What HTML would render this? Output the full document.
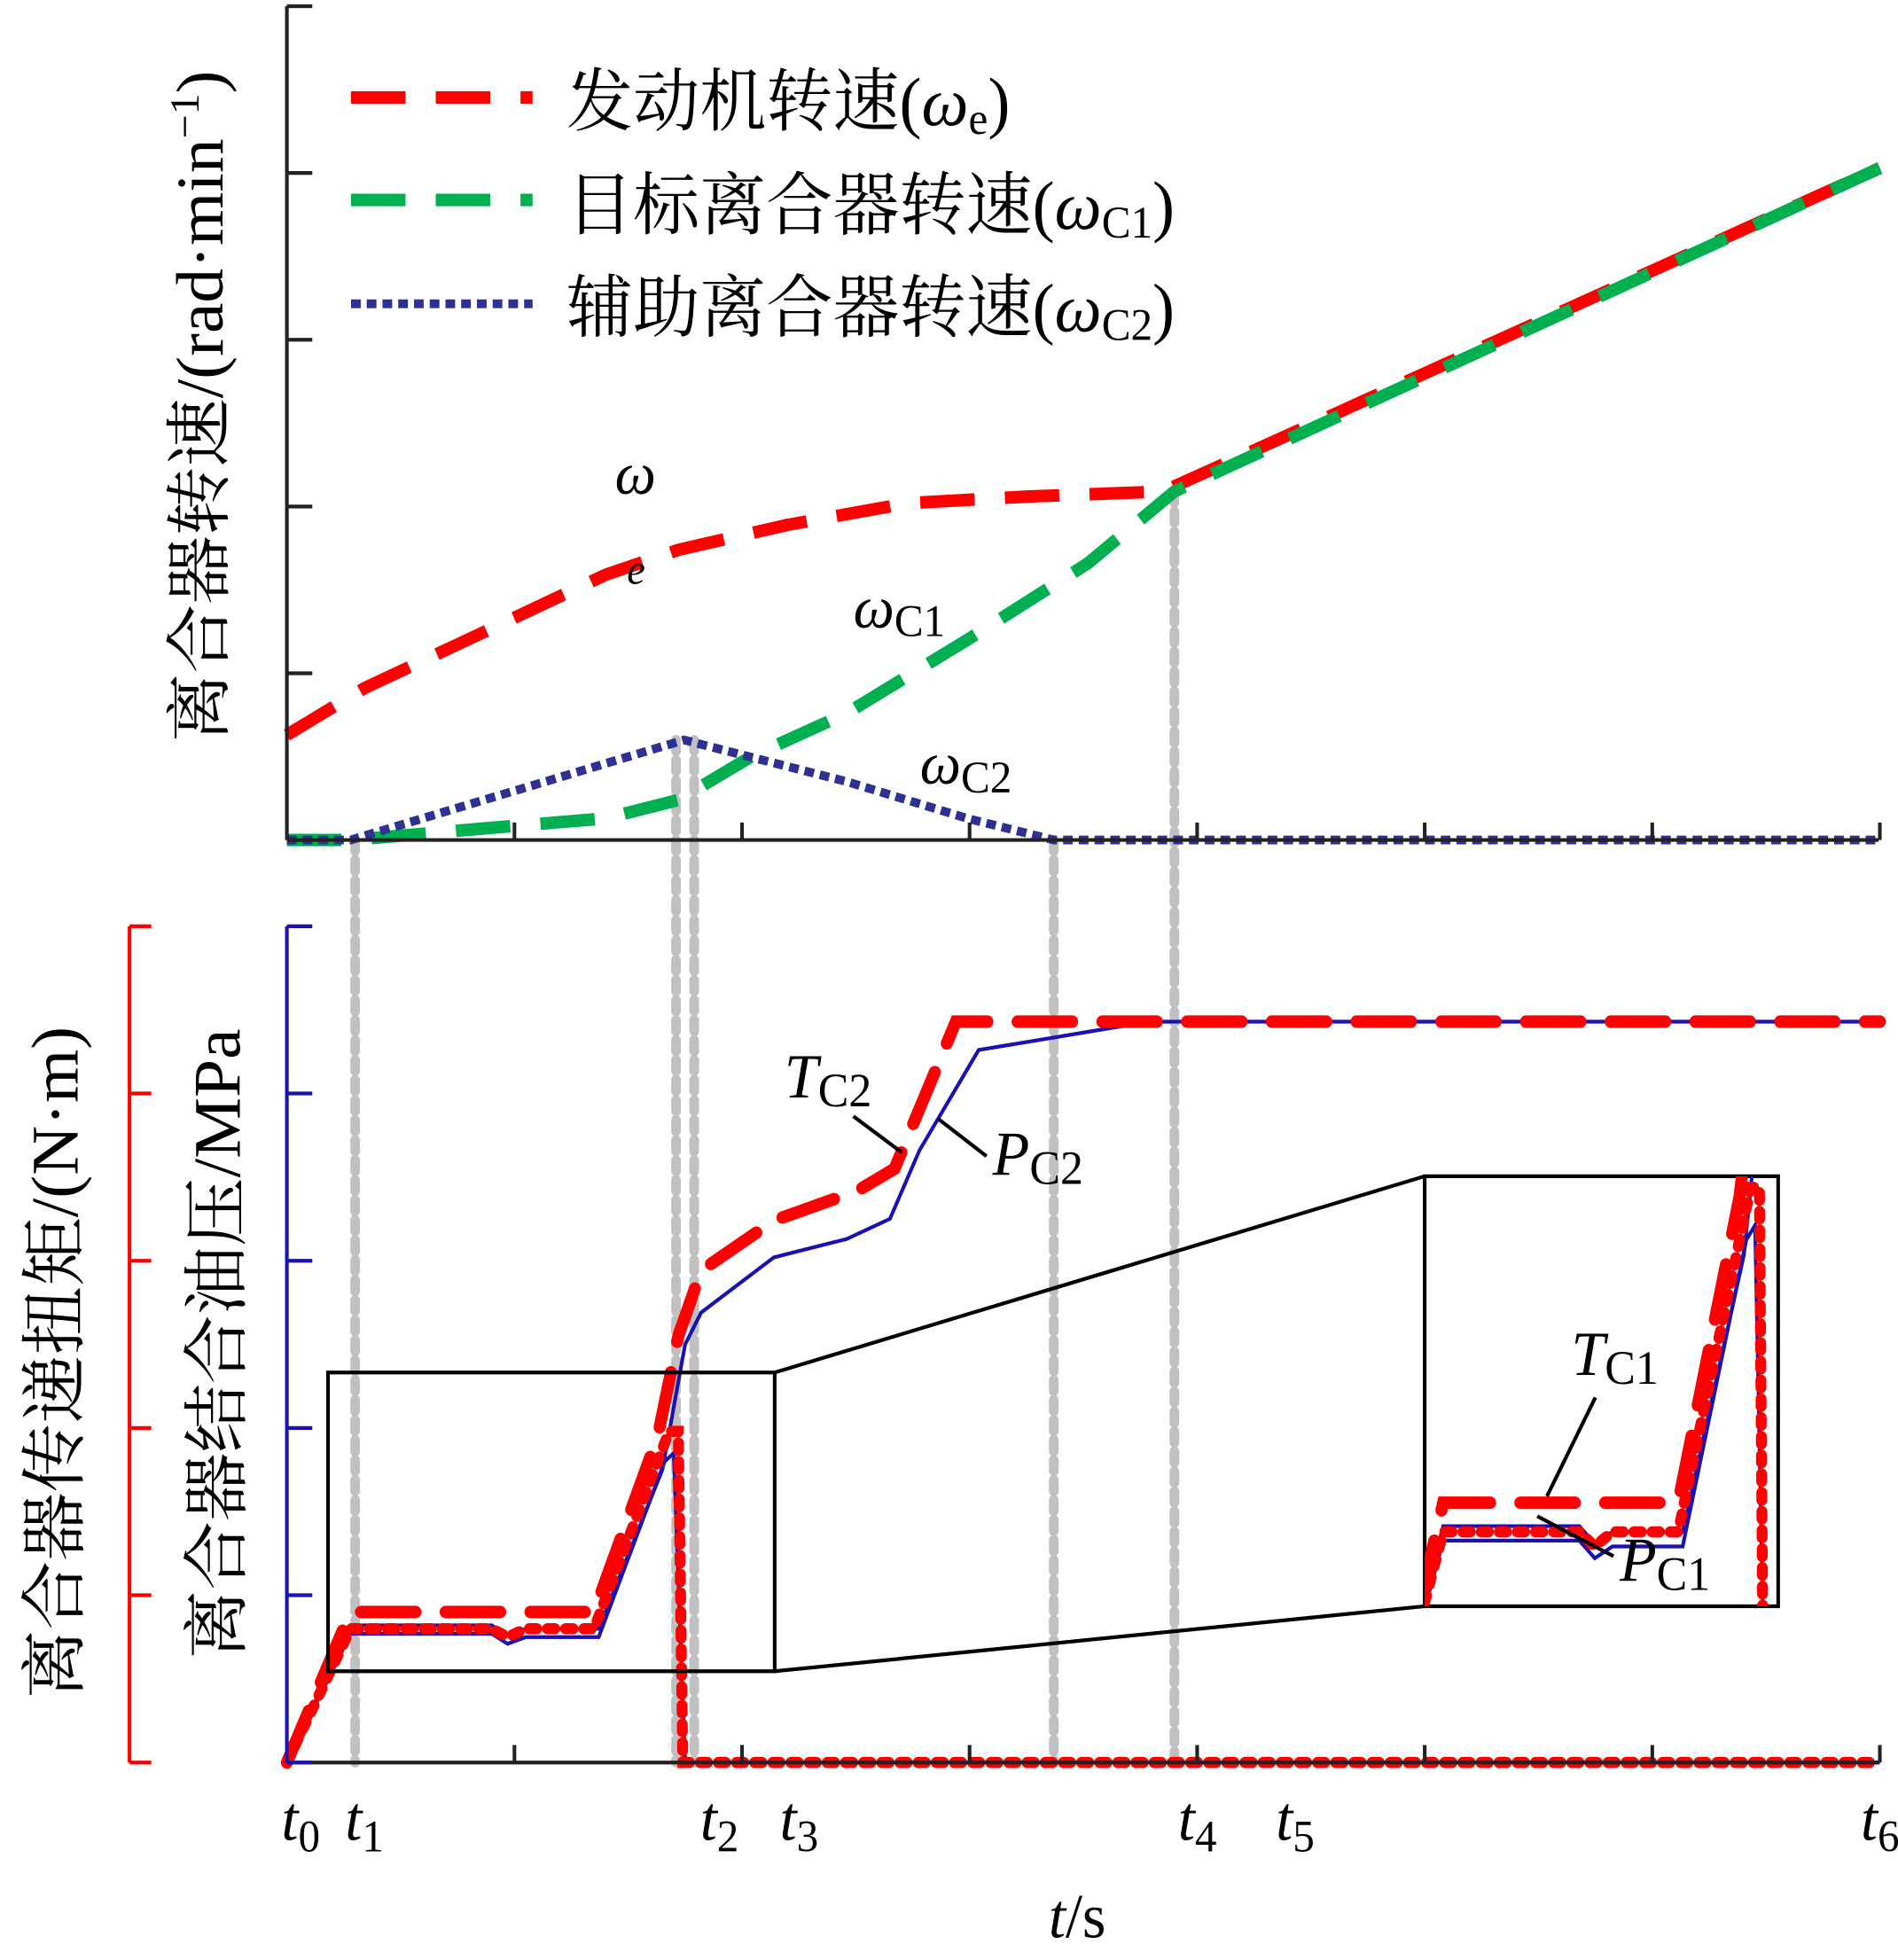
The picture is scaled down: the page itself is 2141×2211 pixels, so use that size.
<!DOCTYPE html>
<html><head><meta charset="utf-8"><style>
html,body{margin:0;padding:0;background:#fff}
svg{display:block}
text{font-family:"Liberation Serif","Noto Serif CJK SC","Noto Sans CJK SC",serif;fill:#000}
</style></head><body>
<svg id="chart" width="2141" height="2211" viewBox="0 0 1568 1568" preserveAspectRatio="none" xmlns="http://www.w3.org/2000/svg">
<defs>
<clipPath id="zoomClip"><rect x="1177" y="941" width="292" height="344"/></clipPath>
</defs>
<g id="grid-lines"></g>
<g id="topPlot"></g>
<g id="bottomPlot"></g>
<g id="zoomInset"></g>
<g id="axesGroup"></g>

<!-- legend -->
<g>
<line x1="290" y1="78" x2="440" y2="78" stroke="#f00" stroke-width="10" stroke-dasharray="45 25"/>
<text x="468" y="100" font-size="55">发动机转速(<tspan font-style="italic">ω</tspan><tspan font-size="36" dy="7">e</tspan><tspan dy="-7">)</tspan></text>
<line x1="290" y1="160" x2="440" y2="160" stroke="#00b050" stroke-width="10" stroke-dasharray="45 25"/>
<text x="468" y="183" font-size="55">目标离合器转速(<tspan font-style="italic">ω</tspan><tspan font-size="36" dy="7">C1</tspan><tspan dy="-7">)</tspan></text>
<line x1="290" y1="243" x2="440" y2="243" stroke="#2e3192" stroke-width="7" stroke-dasharray="8 5"/>
<text x="468" y="265" font-size="55">辅助离合器转速(<tspan font-style="italic">ω</tspan><tspan font-size="36" dy="7">C2</tspan><tspan dy="-7">)</tspan></text>
</g>

<!-- annotations -->
<text x="508" y="395" font-size="48" font-style="italic">ω</text>
<text x="518" y="467" font-size="34" font-style="italic">e</text>
<text x="705" y="502" font-size="48" font-style="italic">ω<tspan font-size="36" font-style="normal" dy="7">C1</tspan></text>
<text x="760" y="627" font-size="48" font-style="italic">ω<tspan font-size="36" font-style="normal" dy="7">C2</tspan></text>
<text x="648" y="878" font-size="50" font-style="italic">T<tspan font-size="38" font-style="normal" dy="7">C2</tspan></text>
<line x1="705" y1="893" x2="745" y2="922" stroke="#000" stroke-width="3"/>
<text x="820" y="940" font-size="50" font-style="italic">P<tspan font-size="38" font-style="normal" dy="7">C2</tspan></text>
<line x1="775" y1="895" x2="815" y2="925" stroke="#000" stroke-width="3"/>
<text x="1298" y="1100" font-size="50" font-style="italic">T<tspan font-size="38" font-style="normal" dy="7">C1</tspan></text>
<line x1="1318" y1="1118" x2="1278" y2="1197" stroke="#000" stroke-width="3"/>
<text x="1338" y="1265" font-size="50" font-style="italic">P<tspan font-size="38" font-style="normal" dy="7">C1</tspan></text>
<line x1="1270" y1="1213" x2="1333" y2="1245" stroke="#000" stroke-width="3"/>

<!-- axis titles -->
<text transform="translate(184,325) rotate(-90)" text-anchor="middle" font-size="55">离合器转速/(rad·min<tspan font-size="34" dy="-20">−1</tspan><tspan dy="20">)</tspan></text>
<text transform="translate(198,1075) rotate(-90)" text-anchor="middle" font-size="55">离合器结合油压/MPa</text>
<text transform="translate(64,1090) rotate(-90)" text-anchor="middle" font-size="55">离合器传递扭矩/(N·m)</text>
<text x="890" y="1550" text-anchor="middle" font-size="50"><tspan font-style="italic">t</tspan>/s</text>
<g id="xlabels"></g>
</svg>
<script>
// ---- data (x in tick units 0..7, y in tick units 0..5) ----
const engineX = [0, 0.34, 0.87, 1.40, 1.72, 2.2, 2.73, 3.26, 3.85, 7];
const engineY = [0.63, 0.91, 1.25, 1.59, 1.74, 1.89, 2.02, 2.06, 2.09, 4.03];
const c1X = [0, 0.28, 0.87, 1.40, 1.72, 2.04, 2.46, 2.99, 3.52, 3.90, 7];
const c1Y = [0, 0, 0.07, 0.13, 0.24, 0.5, 0.76, 1.2, 1.66, 2.09, 4.03];
const c2X = [0, 0.28, 1.745, 2.46, 2.99, 3.37, 7];
const c2Y = [0, 0, 0.6, 0.35, 0.13, 0, 0];
const tc2X = [0, 0.28, 0.35, 1.35, 1.63, 1.72, 1.82, 2.14, 2.51, 2.67, 2.94, 7];
const tc2Y = [0, 0.9, 0.9, 0.9, 1.95, 2.55, 2.94, 3.24, 3.42, 3.55, 4.43, 4.43];
const pc2X = [0, 0.28, 0.35, 0.9, 0.97, 1.05, 1.37, 1.65, 1.75, 1.82, 2.14, 2.46, 2.65, 2.78, 3.04, 3.79, 7];
const pc2Y = [0, 0.82, 0.82, 0.82, 0.76, 0.8, 0.8, 1.75, 2.5, 2.69, 3.02, 3.13, 3.25, 3.66, 4.26, 4.43, 4.43];
const tc1X = [0, 0.28, 0.9, 0.97, 1.05, 1.35, 1.68, 1.72, 1.74, 7];
const tc1Y = [0, 0.8, 0.8, 0.75, 0.8, 0.8, 1.98, 1.98, 0, 0];
const pc1X = [0, 0.28, 0.9, 0.97, 1.05, 1.37, 1.66, 1.70, 1.75, 7];
const pc1Y = [0, 0.77, 0.77, 0.71, 0.75, 0.75, 1.8, 1.85, 0, 0];
const markerX = [0.3, 1.71, 1.79, 3.37, 3.90];
const markerTop = [0, 0.6, 0.6, 0, 2.09];
const tickLabels = ["0","1","2","3","4","5","6"];
const tickLabelX = [0.04, 0.32, 1.88, 2.23, 3.98, 4.41, 6.98];

// ---- axes ----
const X0 = 237, XS = 188;
const sx = v => X0 + XS * v;
const syTop = v => 672 - 133.4 * v;
const syBot = v => 1410 - 133.8 * v;
const NS = "http://www.w3.org/2000/svg";
function mk(tag, attrs, parent) {
  const e = document.createElementNS(NS, tag);
  for (const k in attrs) e.setAttribute(k, attrs[k]);
  parent.appendChild(e); return e;
}
function pathD(xs, ys, fx, fy) {
  return xs.map((x, i) => (i ? "L" : "M") + fx(x).toFixed(1) + " " + fy(ys[i]).toFixed(1)).join(" ");
}
const gridG = document.getElementById("grid-lines");
const topG = document.getElementById("topPlot");
const botG = document.getElementById("bottomPlot");
const zoomG = document.getElementById("zoomInset");
const axesG = document.getElementById("axesGroup");

// gray time markers
markerX.forEach((m, i) => {
  const l = mk("line", {x1: sx(m), x2: sx(m), y1: syTop(markerTop[i]), y2: 1410, stroke: "#c0c0c0", "stroke-width": 8, "stroke-dasharray": "9 7", "stroke-linecap": "round"}, gridG);
  
  
});

// top series
let p = mk("path", {d: pathD(engineX, engineY, sx, syTop), fill: "none", stroke: "#f00", "stroke-width": 10, "stroke-dasharray": "45 25"}, topG);


p = mk("path", {d: pathD(c1X, c1Y, sx, syTop), fill: "none", stroke: "#00b050", "stroke-width": 10, "stroke-dasharray": "45 25"}, topG);


p = mk("path", {d: pathD(c2X, c2Y, sx, syTop), fill: "none", stroke: "#2e3192", "stroke-width": 7, "stroke-dasharray": "8 5"}, topG);



// bottom series
function drawBottom(parent, fx, fy, suffix) {
  let q = mk("path", {d: pathD(pc1X, pc1Y, fx, fy), fill: "none", stroke: "#1a12b0", "stroke-width": 3}, parent);
  
  
  q = mk("path", {d: pathD(pc2X, pc2Y, fx, fy), fill: "none", stroke: "#1a12b0", "stroke-width": 3}, parent);
  
  
  q = mk("path", {d: pathD(tc1X, tc1Y, fx, fy), fill: "none", stroke: "#f00", "stroke-width": 9, "stroke-dasharray": "6 9", "stroke-linecap": "round"}, parent);
  
  
  q = mk("path", {d: pathD(tc2X, tc2Y, fx, fy), fill: "none", stroke: "#f00", "stroke-width": 10, "stroke-dasharray": "45 25", "stroke-linecap": "round"}, parent);
  
  
}
drawBottom(botG, sx, syBot, "");

// zoom inset
let r = mk("rect", {x: 271, y: 1098, width: 369, height: 239, fill: "none", stroke: "#000", "stroke-width": 3}, zoomG);


r = mk("line", {x1: 640, y1: 1098, x2: 1177, y2: 941, stroke: "#000", "stroke-width": 3}, zoomG);


r = mk("line", {x1: 640, y1: 1337, x2: 1177, y2: 1285, stroke: "#000", "stroke-width": 3}, zoomG);


r = mk("rect", {x: 1177, y: 941, width: 292, height: 344, fill: "#fff", stroke: "#000", "stroke-width": 3}, zoomG);


const zg = mk("g", {"clip-path": "url(#zoomClip)"}, zoomG);


const zx = v => 1183 + (sx(v) - 280) * 0.965;
const zy = v => 941 + (syBot(v) - 1140) * 1.746;
drawBottom(zg, zx, zy, "-zoomed");

// axes
function ln(a, name, parent) { const l = mk("line", a, parent);   return l; }
ln({x1: 237, y1: 5, x2: 237, y2: 672, stroke: "#222", "stroke-width": 3}, 'top-y-axis', axesG);
ln({x1: 237, y1: 672, x2: 1552, y2: 672, stroke: "#222", "stroke-width": 3}, 'top-x-axis', axesG);
ln({x1: 237, y1: 741, x2: 237, y2: 1410, stroke: "#1a12b0", "stroke-width": 3}, 'pressure-y-axis', axesG);
ln({x1: 107, y1: 741, x2: 107, y2: 1410, stroke: "#f00", "stroke-width": 3}, 'torque-y-axis', axesG);
ln({x1: 237, y1: 1410, x2: 1552, y2: 1410, stroke: "#222", "stroke-width": 3}, 'bottom-x-axis', axesG);
for (let i = 0; i <= 5; i++) {
  ln({x1: 237, x2: 258, y1: syTop(i), y2: syTop(i), stroke: "#222", "stroke-width": 3}, 'top-y-tick', axesG);
  ln({x1: 237, x2: 258, y1: syBot(i), y2: syBot(i), stroke: "#1a12b0", "stroke-width": 3}, 'pressure-y-tick', axesG);
  ln({x1: 107, x2: 125, y1: syBot(i), y2: syBot(i), stroke: "#f00", "stroke-width": 3}, 'torque-y-tick', axesG);
}
for (let i = 1; i <= 7; i++) {
  ln({x1: sx(i), x2: sx(i), y1: 672, y2: 658, stroke: "#222", "stroke-width": 3}, 'top-x-tick', axesG);
  ln({x1: sx(i), x2: sx(i), y1: 1410, y2: 1396, stroke: "#222", "stroke-width": 3}, 'bottom-x-tick', axesG);
}
const xl = document.getElementById("xlabels");
tickLabels.forEach((s, i) => {
  const t = mk("text", {x: sx(tickLabelX[i]) - 12, y: 1472, "font-size": 50, "font-style": "italic"}, xl);
  
  
  t.textContent = "t";
  const sub = mk("tspan", {"font-size": 36, "font-style": "normal", dy: 9}, t);
  sub.textContent = s;
});
</script>
</body></html>
